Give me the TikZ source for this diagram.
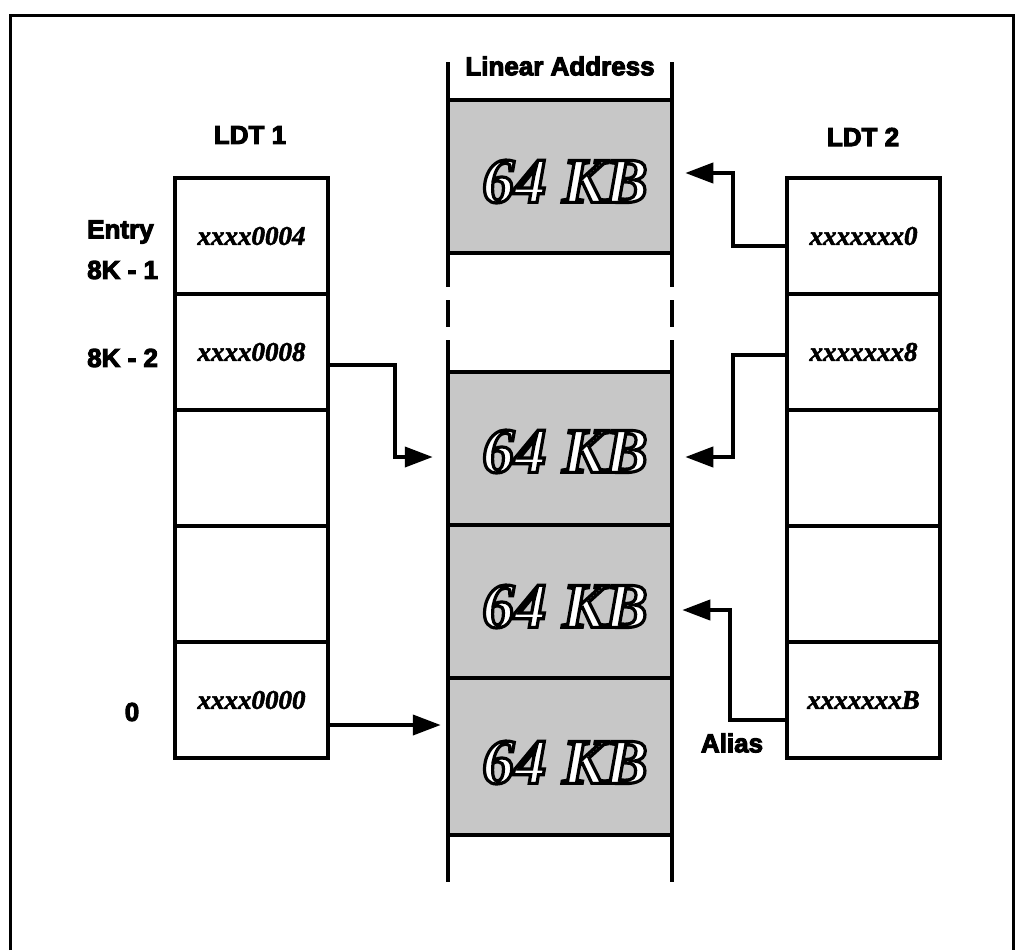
\documentclass[tikz,border=0pt]{standalone}
\usepackage{fontspec}
\setmainfont{Liberation Serif}
\newfontfamily\labfont{Liberation Sans Bold}[FakeBold=4]
\newfontfamily\kbfont{Liberation Serif Bold Italic}[FakeBold=5]
\newfontfamily\rowfont{Liberation Serif Bold Italic}[FakeBold=2]
\usetikzlibrary{arrows.meta,calc}
\tikzset{
  ldtrow/.style={draw, line width=4pt, minimum width=153pt, minimum height=116pt, inner sep=0pt,
    font=\rowfont\fontsize{27}{30}\selectfont},
  membox/.style={draw, line width=4.5pt, fill=black!22, minimum width=224pt, inner sep=0pt},
  lab/.style={font=\labfont\fontsize{26}{30}\selectfont, inner sep=0pt},
  kb/.style={font=\kbfont\fontsize{64}{70}\selectfont, inner sep=0pt, text=white},
  arr/.style={line width=4pt, -{Triangle[length=28pt,width=20pt]}},
  col/.style={line width=4pt},
  framel/.style={line width=3pt}
}
\newcommand{\kbtext}{\special{pdf:literal direct 0 G}64 KB}
\begin{document}
\begin{tikzpicture}[x=1pt,y=-1pt]
\useasboundingbox (0,0) rectangle (1016,950);
\draw[framel] (10,950) -- (10,16) -- (1013,16) -- (1013,950);

% middle column
\node[membox, minimum height=153pt] (m0) at (560,176.5) {};
\node[membox, minimum height=153pt] (m1) at (560,448.5) {};
\node[membox, minimum height=153pt] (m2) at (560,601.5) {};
\node[membox, minimum height=157pt] (m3) at (560,756.5) {};
\foreach \x in {448,672}{
  \draw[col] (\x,62) -- (\x,287);
  \draw[col] (\x,300) -- (\x,327);
  \draw[col] (\x,340) -- (\x,882);
}
\node[kb] (k0) at ($(m0.center)+(5,5)$) {\kbtext};
\node[kb] (k1) at ($(m1.center)+(5,3)$) {\kbtext};
\node[kb] (k2) at ($(m2.center)+(5,5)$) {\kbtext};
\node[kb] (k3) at ($(m3.center)+(5,6)$) {\kbtext};
\node[lab] (la) at (560,66) {Linear Address};

% LDT 1
\node[lab] (ldt1) at (250,135) {LDT 1};
\node[ldtrow] (a1) at (251.5,236) {xxxx0004};
\node[ldtrow] (a2) at (251.5,352) {xxxx0008};
\node[ldtrow] (a3) at (251.5,468) {};
\node[ldtrow] (a4) at (251.5,584) {};
\node[ldtrow] (a5) at (251.5,700) {xxxx0000};
\node[lab, anchor=west] (e1) at (87,232) {Entry};
\node[lab, anchor=west] (e2) at (87,270) {8K - 1};
\node[lab, anchor=west] (e3) at (87,358) {8K - 2};
\node[lab] (e4) at (132,712) {0};

% LDT 2
\node[lab] (ldt2) at (863,137) {LDT 2};
\node[ldtrow] (b1) at (863.5,236) {xxxxxxx0};
\node[ldtrow] (b2) at (863.5,352) {xxxxxxx8};
\node[ldtrow] (b3) at (863.5,468) {};
\node[ldtrow] (b4) at (863.5,584) {};
\node[ldtrow] (b5) at (863.5,700) {xxxxxxxB};
\node[lab] (alias) at (732,743) {Alias};

% arrow targets
\coordinate (t1) at ([xshift=-13pt,yshift=-8.5pt]m1.west);
\coordinate (t2) at ([xshift=-5pt,yshift=31.5pt]m3.west);
\coordinate (t3) at ([xshift=11pt,yshift=3.5pt]m0.east);
\coordinate (t4) at ([xshift=11pt,yshift=-8.5pt]m1.east);
\coordinate (t5) at ([xshift=8pt,yshift=-8.5pt]m2.east);

\draw[arr] ([yshift=-13pt]a2.east) -- ++(65,0) |- (t1);
\draw[arr] (a5.east |- t2) -- (t2);
\draw[arr] ([yshift=-10pt]b1.west) -- ++(-52,0) |- (t3);
\draw[arr] ([yshift=-3pt]b2.west) -- ++(-52,0) |- (t4);
\draw[arr] ([yshift=-20pt]b5.west) -- ++(-55,0) |- (t5);
\end{tikzpicture}
\end{document}
